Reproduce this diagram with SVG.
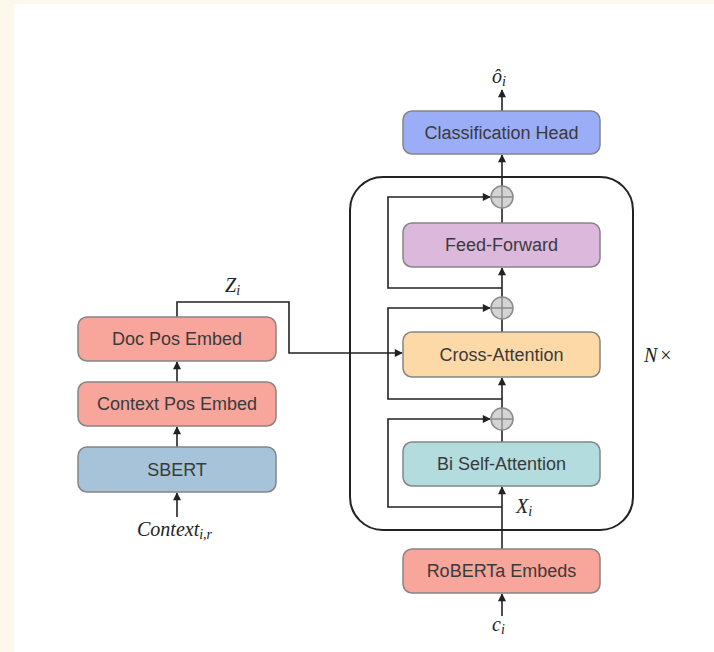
<svg xmlns="http://www.w3.org/2000/svg" width="714" height="652" viewBox="0 0 714 652">
<defs>
<style>
.box{stroke:#858585;stroke-width:1.5}
.lbl{font-family:"Liberation Sans",Arial,Helvetica,sans-serif;font-size:18px;fill:#3a3a3a;text-anchor:middle}
.math{font-family:"Liberation Serif","Times New Roman",serif;font-style:italic;fill:#222}
.ln{fill:none;stroke:#222;stroke-width:1.6}
.ar{fill:none;stroke:#222;stroke-width:1.6;marker-end:url(#ah)}
.plus{fill:#d4d4d4;stroke:#8a8a8a;stroke-width:1.5}
</style>
<marker id="ah" viewBox="0 0 10 10" refX="9" refY="5" markerWidth="5.5" markerHeight="5" orient="auto" markerUnits="strokeWidth">
<path d="M0,0 L10,5 L0,10 z" fill="#222"/>
</marker>
</defs>
<rect x="0" y="0" width="714" height="652" fill="#fdf8ec"/>
<rect x="14" y="4" width="700" height="648" fill="#ffffff"/>

<g id="block">
<rect x="350" y="177" width="283" height="353" rx="33" ry="33" fill="none" stroke="#222" stroke-width="2"/>
</g>

<g id="connectors">
<line class="ar" x1="502" y1="111" x2="502" y2="90"/>
<line class="ar" x1="502" y1="186" x2="502" y2="155"/>
<line class="ln" x1="502" y1="223" x2="502" y2="208"/>
<line class="ar" x1="502" y1="319" x2="502" y2="268"/>
<line class="ln" x1="502" y1="332" x2="502" y2="319"/>
<line class="ar" x1="502" y1="408" x2="502" y2="378"/>
<line class="ln" x1="502" y1="442" x2="502" y2="430"/>
<line class="ar" x1="502" y1="549" x2="502" y2="487"/>
<line class="ar" x1="502" y1="616" x2="502" y2="594"/>
<polyline class="ar" points="502,288 388,288 388,197 490,197"/>
<polyline class="ar" points="502,399 388,399 388,308 490,308"/>
<polyline class="ar" points="502,507 388,507 388,419 490,419"/>
<polyline class="ar" points="177,317 177,302 289,302 289,353 402,353"/>
<line class="ar" x1="177" y1="382" x2="177" y2="362"/>
<line class="ar" x1="177" y1="447" x2="177" y2="427"/>
<line class="ar" x1="177" y1="517" x2="177" y2="493"/>
</g>

<g id="add1"><circle class="plus" cx="502" cy="197" r="11"/><path class="plus" d="M491,197 H513 M502,186 V208" fill="none"/></g>
<g id="add2"><circle class="plus" cx="502" cy="308" r="11"/><path class="plus" d="M491,308 H513 M502,297 V319" fill="none"/></g>
<g id="add3"><circle class="plus" cx="502" cy="419" r="11"/><path class="plus" d="M491,419 H513 M502,408 V430" fill="none"/></g>

<g id="classification-head"><rect class="box" x="403" y="111" width="197" height="43" rx="9" fill="#9cadf7"/><text class="lbl" x="501.5" y="138.5">Classification Head</text></g>
<g id="feed-forward"><rect class="box" x="403" y="223" width="197" height="44" rx="9" fill="#dcb8dc"/><text class="lbl" x="501.5" y="251">Feed-Forward</text></g>
<g id="cross-attention"><rect class="box" x="403" y="332" width="197" height="45" rx="9" fill="#fdd9a8"/><text class="lbl" x="501.5" y="360.5">Cross-Attention</text></g>
<g id="bi-self-attention"><rect class="box" x="403" y="442" width="197" height="44" rx="9" fill="#b2dcdd"/><text class="lbl" x="501.5" y="470">Bi Self-Attention</text></g>
<g id="roberta-embeds"><rect class="box" x="403" y="549" width="197" height="44" rx="9" fill="#f8a59c"/><text class="lbl" x="501.5" y="577">RoBERTa Embeds</text></g>

<g id="doc-pos-embed"><rect class="box" x="78" y="317" width="198" height="44" rx="9" fill="#f8a59c"/><text class="lbl" x="177" y="345">Doc Pos Embed</text></g>
<g id="context-pos-embed"><rect class="box" x="78" y="382" width="198" height="44" rx="9" fill="#f8a59c"/><text class="lbl" x="177" y="410">Context Pos Embed</text></g>
<g id="sbert"><rect class="box" x="78" y="447" width="198" height="45" rx="9" fill="#a6c3da"/><text class="lbl" x="177" y="475.5">SBERT</text></g>

<g id="labels">
<text class="math" x="492" y="83" font-size="20">ô<tspan font-size="14" dy="3">i</tspan></text>
<text class="math" x="225" y="292" font-size="20">Z<tspan font-size="14" dy="3">i</tspan></text>
<text class="math" x="516" y="513" font-size="20">X<tspan font-size="14" dy="3">i</tspan></text>
<text class="math" x="492" y="631" font-size="20">c<tspan font-size="14" dy="3">i</tspan></text>
<text class="math" x="137" y="536" font-size="20">Context<tspan font-size="14" dy="3">i,r</tspan></text>
<text class="math" x="644" y="362" font-size="20">N<tspan font-style="normal" dx="3">×</tspan></text>
</g>
</svg>
